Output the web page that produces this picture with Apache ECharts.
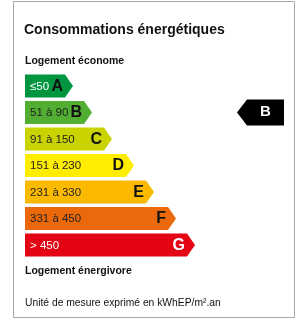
<!DOCTYPE html>
<html style="height: 100%">
<head>
  <meta charset="utf-8">
  <script src="https://cdn.jsdelivr.net/npm/echarts@6/dist/echarts.min.js"></script>
  <style type="text/css">
    * { margin: 0; padding: 0; }
  </style>
</head>
<body style="height: 100%; margin: 0; background: #fff">
  <div id="container" style="width: 300px; height: 320px"></div>
  <script type="text/javascript">
    var classes = ['A', 'B', 'C', 'D', 'E', 'F', 'G'];
    var ranges = ['≤50', '51 à 90', '91 à 150', '151 à 230', '231 à 330', '331 à 450', '> 450'];
    var lengths = [48, 67, 87, 109, 129, 151, 170]; // longueur de chaque fleche
    var colors = ['#009640', '#52ae32', '#c8d300', '#ffed00', '#fbba00', '#eb690b', '#e30513'];
    var rangeColors = ['#fff', '#222', '#222', '#222', '#222', '#222', '#fff'];
    var letterColors = ['#111', '#111', '#111', '#111', '#111', '#111', '#fff'];
    var current = 'B';
    var markerSpan = [212, 259];

    var FONT = '"Liberation Sans", Arial, sans-serif';
    var dom = document.getElementById('container');
    var myChart = echarts.init(dom);

    var barData = classes.map(function (c, i) { return [lengths[i], i]; });
    var markerData = [[markerSpan[0], classes.indexOf(current), markerSpan[1]]];

    function renderArrow(params, api) {
      var i = api.value(1);
      var start = api.coord([0, i]);
      var end = api.coord([api.value(0), i]);
      var h = api.size([0, 1])[1] * 0.87;
      var tip = 8;
      var y0 = start[1] - h / 2, y1 = start[1] + h / 2;
      return {
        type: 'group',
        children: [{
          type: 'polygon',
          shape: { points: [[start[0], y0], [end[0] - tip, y0], [end[0], start[1]], [end[0] - tip, y1], [start[0], y1]] },
          style: { fill: colors[i] }
        }, {
          type: 'text',
          style: {
            text: ranges[i], x: start[0] + 5, y: start[1] + 0.5,
            fill: rangeColors[i], font: '11.5px ' + FONT,
            align: 'left', verticalAlign: 'middle'
          }
        }, {
          type: 'text',
          style: {
            text: classes[i], x: end[0] - 10, y: start[1] + 0.5,
            fill: letterColors[i], font: 'bold 16px ' + FONT,
            align: 'right', verticalAlign: 'middle'
          }
        }]
      };
    }

    function renderMarker(params, api) {
      var i = api.value(1);
      var a = api.coord([api.value(0), i]);
      var b = api.coord([api.value(2), i]);
      var h = 26;
      var tip = 10;
      return {
        type: 'group',
        children: [{
          type: 'polygon',
          shape: { points: [[a[0], a[1]], [a[0] + tip, a[1] - h / 2], [b[0], a[1] - h / 2], [b[0], a[1] + h / 2], [a[0] + tip, a[1] + h / 2]] },
          style: { fill: '#000' }
        }, {
          type: 'text',
          style: {
            text: classes[i], x: (a[0] + tip + b[0]) / 2, y: a[1] - 1,
            fill: '#fff', font: 'bold 15px ' + FONT,
            align: 'center', verticalAlign: 'middle'
          }
        }]
      };
    }

    var option = {
      animation: false,
      grid: { left: 25, top: 72.75, width: 260, height: 185.5 },
      xAxis: { type: 'value', min: 0, max: 260, show: false },
      yAxis: { type: 'category', data: classes, inverse: true, show: false },
      graphic: [
        { type: 'rect', shape: { x: 13.5, y: 1.5, width: 281, height: 316 }, style: { fill: 'none', stroke: '#a8a8a8', lineWidth: 1 } },
        { type: 'text', x: 24, y: 30.5, style: { text: 'Consommations énergétiques', font: 'bold 14px ' + FONT, fill: '#111', verticalAlign: 'middle' } },
        { type: 'text', x: 25, y: 61, style: { text: 'Logement économe', font: 'bold 10.5px ' + FONT, fill: '#111', verticalAlign: 'middle' } },
        { type: 'text', x: 25, y: 271.5, style: { text: 'Logement énergivore', font: 'bold 10.5px ' + FONT, fill: '#111', verticalAlign: 'middle' } },
        { type: 'text', x: 25, y: 303, style: { text: 'Unité de mesure exprimé en kWhEP/m².an', font: '10.3px ' + FONT, fill: '#111', verticalAlign: 'middle' } }
      ],
      series: [
        { type: 'custom', renderItem: renderArrow, encode: { x: 0, y: 1 }, data: barData },
        { type: 'custom', renderItem: renderMarker, encode: { x: [0, 2], y: 1 }, data: markerData }
      ]
    };
    myChart.setOption(option);
  </script>
</body>
</html>
